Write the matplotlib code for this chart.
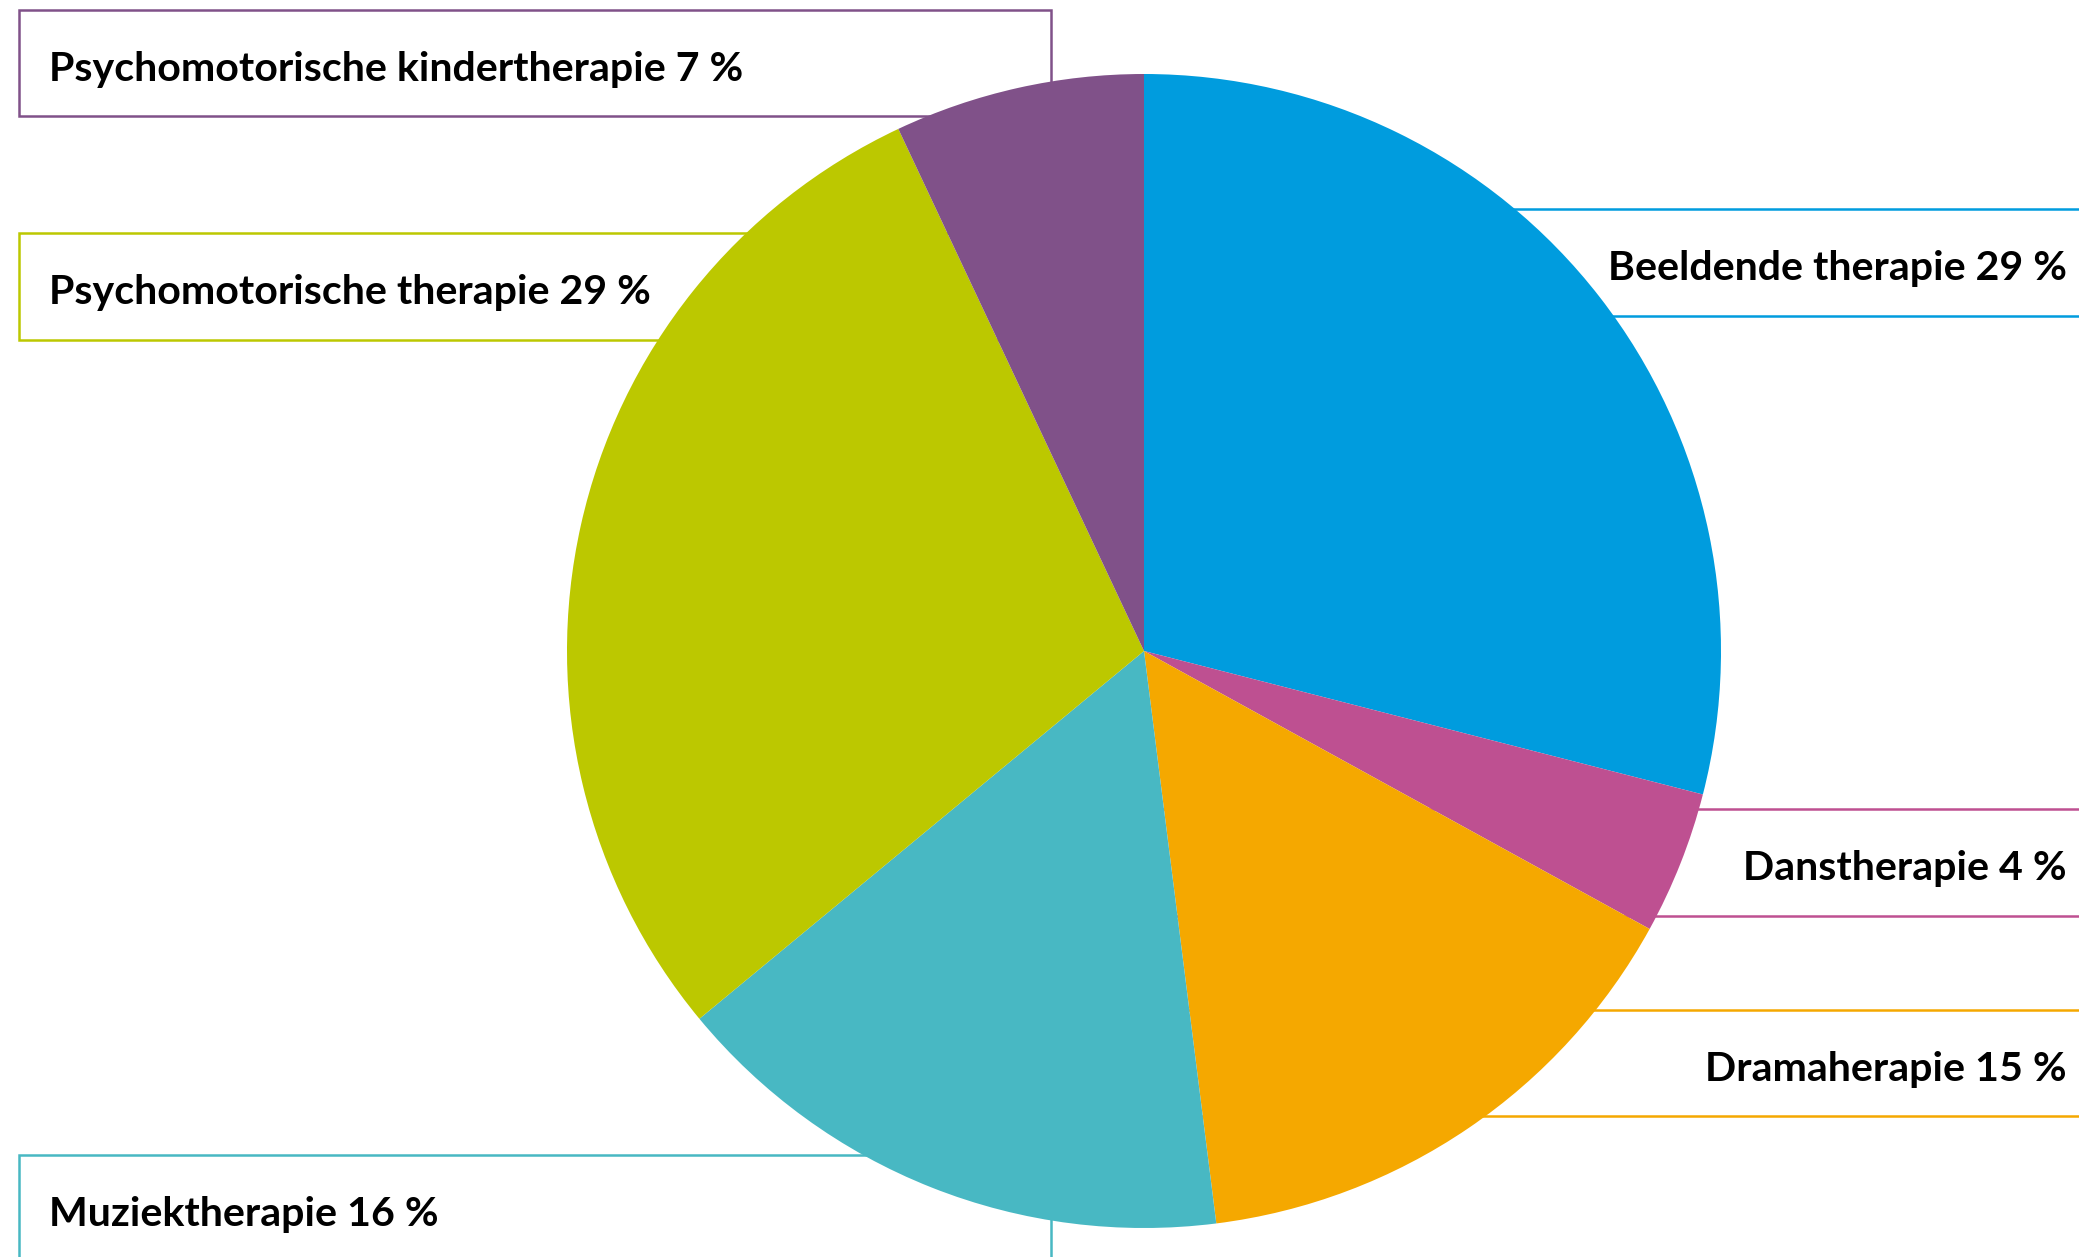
import matplotlib
matplotlib.use('Agg')
from matplotlib import pyplot as plt
from matplotlib.patches import Rectangle

# data
labels = ['Beeldende therapie', 'Danstherapie', 'Dramaherapie', 'Muziektherapie',
          'Psychomotorische therapie', 'Psychomotorische kindertherapie']
values = [29, 4, 15, 16, 29, 7]
colors = ['#009CDE', '#BE5091', '#F5A800', '#48B8C3', '#BCC800', '#805189']

W, H = 2079, 1257

plt.rcParams['font.family'] = ['Lato', 'DejaVu Sans']

fig = plt.figure(figsize=(W / 100, H / 100), dpi=100)
ax = fig.add_axes([0, 0, 1, 1])

ax.pie(values, colors=colors, startangle=90, counterclock=False,
       center=(1144, H - 651), radius=577,
       wedgeprops={'linewidth': 0, 'zorder': 3})

# label boxes: (left, top, right, bottom) in pixels, side of text
boxes = [
    (1150, 209, 2120, 316, 'right'),   # Beeldende
    (1150, 809, 2120, 916, 'right'),   # Dans
    (1150, 1010, 2120, 1116, 'right'),  # Drama
    (19, 1155, 1051, 1262, 'left'),    # Muziek
    (19, 233, 1051, 340, 'left'),      # Psychomotorisch
    (19, 10, 1051, 116, 'left'),       # kinder
]

for (l, t, r, b, side), lab, v, col in zip(boxes, labels, values, colors):
    ax.add_patch(Rectangle((l, H - b), r - l, b - t, fill=False,
                           edgecolor=col, linewidth=1.8, zorder=1))
    base = t + 71
    if side == 'left':
        ax.text(49, H - base, '%s %d %%' % (lab, v), ha='left', va='baseline',
                fontsize=29.6, fontweight='bold', color='black', zorder=4)
    else:
        ax.text(2067, H - base, '%s %d %%' % (lab, v), ha='right', va='baseline',
                fontsize=29.6, fontweight='bold', color='black', zorder=4)

ax.set_xlim(0, W)
ax.set_ylim(0, H)
ax.set_aspect('equal')
ax.axis('off')

fig.savefig('out.png', dpi=100, facecolor='white')
